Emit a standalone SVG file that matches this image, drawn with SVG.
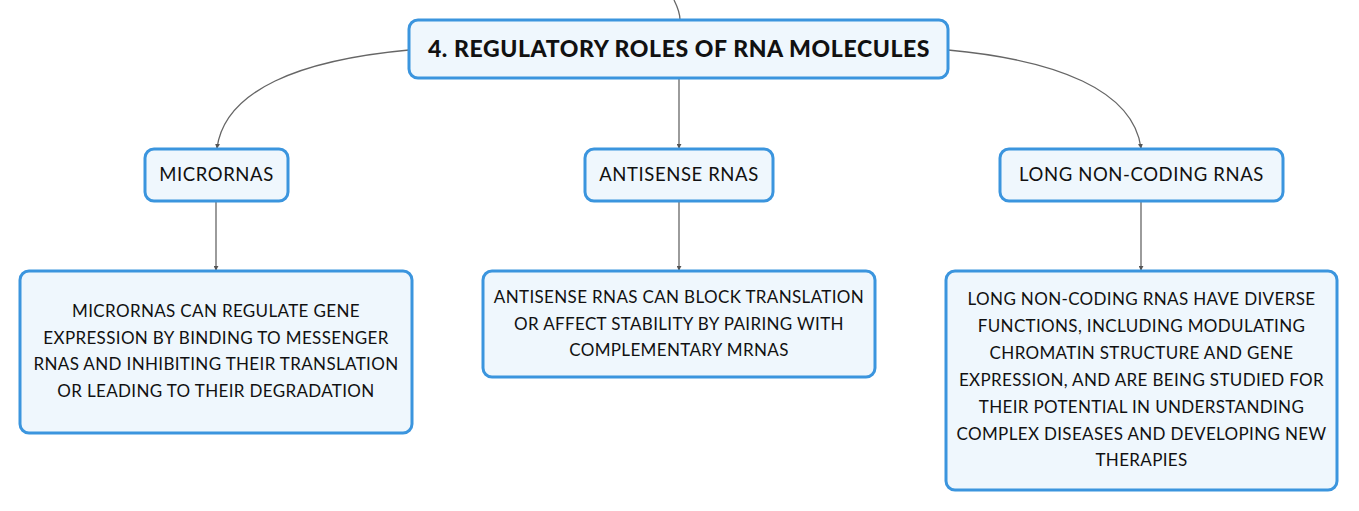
<svg xmlns="http://www.w3.org/2000/svg" width="1359" height="511" viewBox="0 0 1359 511">
<defs>
<marker id="arr" viewBox="0 0 6 6" refX="5" refY="3" markerWidth="5" markerHeight="5" orient="auto" markerUnits="userSpaceOnUse">
<path d="M0,0 L6,3 L0,6 Z" fill="#555"/>
</marker>
</defs>
<style>
.box{fill:#eff7fd;stroke:#3b95de;stroke-width:3}
.t{font-family:Lato,"Noto Sans",sans-serif;fill:#111;text-anchor:middle}
.root{font-size:23px;font-weight:900;letter-spacing:0.6px}
.sub{font-size:18.5px;letter-spacing:0.6px}
.body{font-size:17px;letter-spacing:0.35px}
.c{fill:none;stroke:#666;stroke-width:1.3}
</style>
<rect width="1359" height="511" fill="#fff"/>
<g id="connectors">
<path class="c" d="M674,0 C678,8 680,14 680,20"/>
<path class="c" d="M409,50 C300,60 225,90 217,148" marker-end="url(#arr)"/>
<path class="c" d="M679,78 L679,148" marker-end="url(#arr)"/>
<path class="c" d="M948,50 C1057,60 1133,90 1141,148" marker-end="url(#arr)"/>
<path class="c" d="M216,201 L216,270" marker-end="url(#arr)"/>
<path class="c" d="M679,201 L679,270" marker-end="url(#arr)"/>
<path class="c" d="M1141,201 L1141,270" marker-end="url(#arr)"/>
</g>
<g id="root">
<rect class="box" x="409" y="20" width="539" height="58" rx="9"/>
<text class="t root" x="679" y="57">4. REGULATORY ROLES OF RNA MOLECULES</text>
</g>
<g id="micrornas">
<rect class="box" x="145" y="149" width="143" height="52" rx="9"/>
<text class="t sub" x="216.5" y="181">MICRORNAS</text>
</g>
<g id="antisense">
<rect class="box" x="585" y="149" width="188" height="52" rx="9"/>
<text class="t sub" x="679" y="181">ANTISENSE RNAS</text>
</g>
<g id="lncrna">
<rect class="box" x="1000" y="149" width="283" height="52" rx="9"/>
<text class="t sub" x="1141.5" y="181">LONG NON-CODING RNAS</text>
</g>
<g id="micrornas-desc">
<rect class="box" x="20" y="271" width="392" height="162" rx="9"/>
<text class="t body" x="216" y="317">MICRORNAS CAN REGULATE GENE</text>
<text class="t body" x="216" y="344">EXPRESSION BY BINDING TO MESSENGER</text>
<text class="t body" x="216" y="370">RNAS AND INHIBITING THEIR TRANSLATION</text>
<text class="t body" x="216" y="397">OR LEADING TO THEIR DEGRADATION</text>
</g>
<g id="antisense-desc">
<rect class="box" x="483" y="271" width="392" height="106" rx="9"/>
<text class="t body" x="679" y="303">ANTISENSE RNAS CAN BLOCK TRANSLATION</text>
<text class="t body" x="679" y="330">OR AFFECT STABILITY BY PAIRING WITH</text>
<text class="t body" x="679" y="356">COMPLEMENTARY MRNAS</text>
</g>
<g id="lncrna-desc">
<rect class="box" x="946" y="271" width="391" height="219" rx="9"/>
<text class="t body" x="1141.5" y="305">LONG NON-CODING RNAS HAVE DIVERSE</text>
<text class="t body" x="1141.5" y="332">FUNCTIONS, INCLUDING MODULATING</text>
<text class="t body" x="1141.5" y="359">CHROMATIN STRUCTURE AND GENE</text>
<text class="t body" x="1141.5" y="386">EXPRESSION, AND ARE BEING STUDIED FOR</text>
<text class="t body" x="1141.5" y="413">THEIR POTENTIAL IN UNDERSTANDING</text>
<text class="t body" x="1141.5" y="440">COMPLEX DISEASES AND DEVELOPING NEW</text>
<text class="t body" x="1141.5" y="466">THERAPIES</text>
</g>
</svg>
